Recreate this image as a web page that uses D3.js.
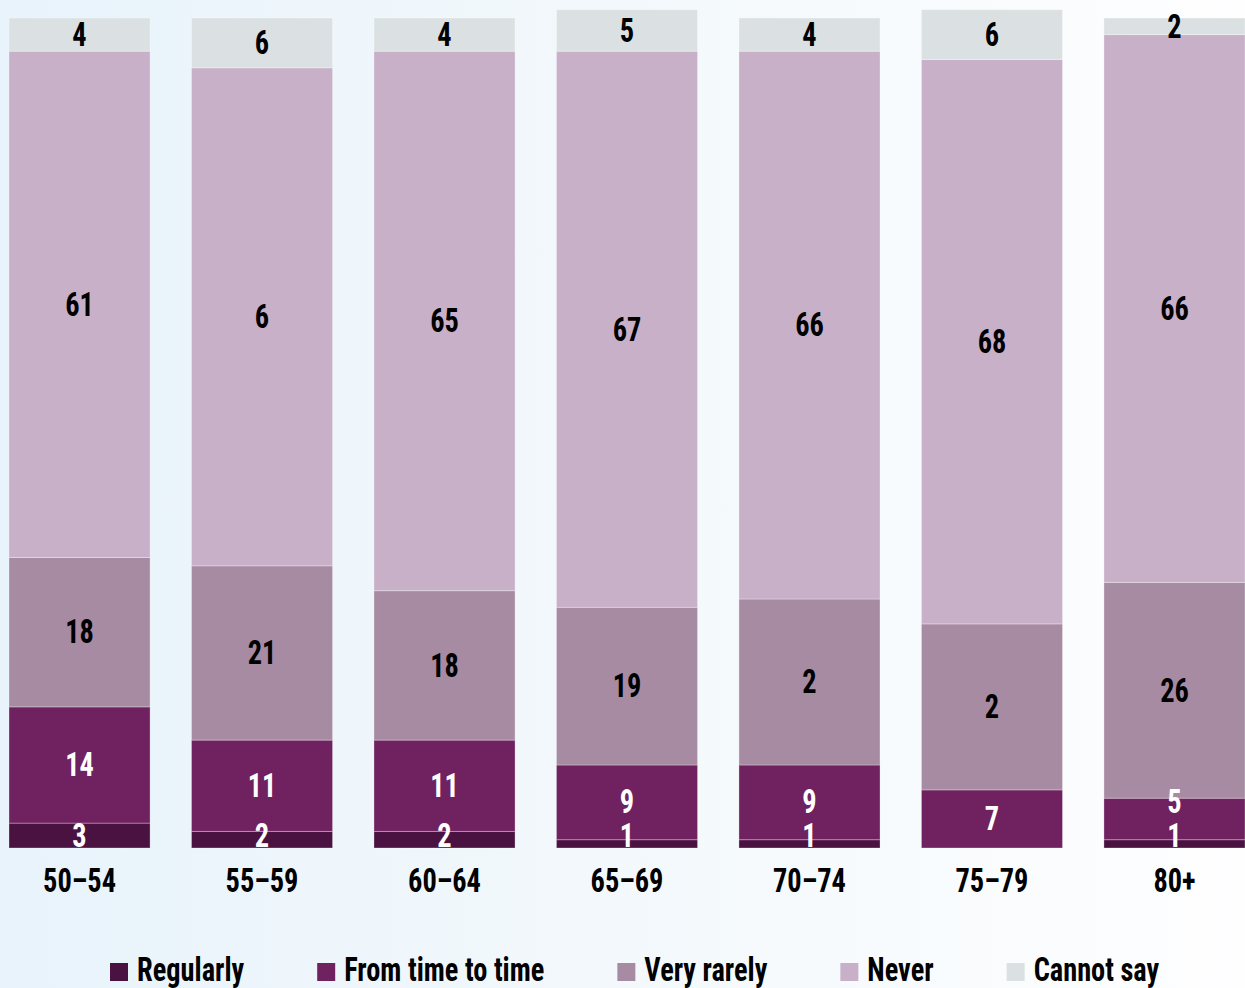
<!DOCTYPE html>
<html>
<head>
<meta charset="utf-8">
<script src="https://cdn.jsdelivr.net/npm/d3@7"></script>
<style>
  html, body { margin: 0; padding: 0; }
  body { width: 1245px; height: 988px; overflow: hidden; }
  svg { display: block; }
  text { font-family: "Liberation Sans Narrow", "Roboto Condensed", "DejaVu Sans Condensed", sans-serif; font-weight: bold; }
</style>
</head>
<body>
<svg id="chart" width="1245" height="988"></svg>
<script>
// ---- data ----
const categories = ["50–54", "55–59", "60–64", "65–69", "70–74", "75–79", "80+"];
const seriesNames = ["Regularly", "From time to time", "Very rarely", "Never", "Cannot say"];
const regularly      = [3, 2, 2, 1, 1, 0, 1];
const fromTimeToTime = [14, 11, 11, 9, 9, 7, 5];
const veryRarely     = [18, 21, 18, 19, 20, 20, 26];
const never          = [61, 60, 65, 67, 66, 68, 66];
const cannotSay      = [4, 6, 4, 5, 4, 6, 2];
// labels as printed in the reference
const regularlyLabels      = ["3", "2", "2", "1", "1", "", "1"];
const fromTimeToTimeLabels = ["14", "11", "11", "9", "9", "7", "5"];
const veryRarelyLabels     = ["18", "21", "18", "19", "2", "2", "26"];
const neverLabels          = ["61", "6", "65", "67", "66", "68", "66"];
const cannotSayLabels      = ["4", "6", "4", "5", "4", "6", "2"];

const seriesValues = [regularly, fromTimeToTime, veryRarely, never, cannotSay];
const seriesLabels = [regularlyLabels, fromTimeToTimeLabels, veryRarelyLabels, neverLabels, cannotSayLabels];
const colors = ["#4a1240", "#6f2160", "#a78ba3", "#c8b0c8", "#dbe1e2"];
const labelColors = ["#ffffff", "#ffffff", "#000000", "#000000", "#000000"];

// ---- layout ----
const W = 1245, H = 988;
const svg = d3.select("#chart");
const defs = svg.append("defs");
const grad = defs.append("linearGradient").attr("id", "bg").attr("x1", "0").attr("x2", "1").attr("y1", "0").attr("y2", "0");
grad.append("stop").attr("offset", "0%").attr("stop-color", "#e8f3fb");
grad.append("stop").attr("offset", "55%").attr("stop-color", "#f4f9fc");
grad.append("stop").attr("offset", "100%").attr("stop-color", "#fefeff");
svg.append("rect").attr("width", W).attr("height", H).attr("fill", "url(#bg)");

const x = d3.scaleBand().domain(categories).range([9, 1245]).paddingInner(0.227).paddingOuter(0);
const y = d3.scaleLinear().domain([0, 100]).range([848, 18]);

const rows = categories.map((c, i) => {
  const r = { cat: c };
  seriesNames.forEach((s, j) => r[s] = seriesValues[j][i]);
  return r;
});
const stacked = d3.stack().keys(seriesNames)(rows);

const FS = 33, SX = 0.86;

const g = svg.append("g");
stacked.forEach((layer, j) => {
  g.selectAll(null).data(layer).enter().append("rect")
    .attr("x", d => x(d.data.cat))
    .attr("width", x.bandwidth())
    .attr("y", d => y(d[1]))
    .attr("height", d => Math.max(0, y(d[0]) - y(d[1])))
    .attr("fill", colors[j])
    .attr("stroke", d => (d[1] - d[0]) > 0 ? "rgba(255,255,255,0.3)" : "none")
    .attr("stroke-width", 1);
});

// value labels with simple collision handling
const bottom = y(0);
categories.forEach((c, i) => {
  let prev = null;
  stacked.forEach((layer, j) => {
    const d = layer[i];
    const txt = seriesLabels[j][i];
    if (!txt) return;
    let cy = (y(d[0]) + y(d[1])) / 2;
    cy = Math.min(cy, bottom - 12);
    if (prev !== null && cy > prev - 34) cy = prev - 34;
    prev = cy;
    svg.append("text")
      .attr("transform", `translate(${x(c) + x.bandwidth() / 2},${cy}) scale(${SX},1)`)
      .attr("text-anchor", "middle")
      .attr("dominant-baseline", "central")
      .attr("font-size", FS)
      .attr("fill", labelColors[j])
      .text(txt);
  });
});

// category axis
const axis = svg.append("g").attr("transform", `translate(0,${bottom})`).call(d3.axisBottom(x).tickSize(0).tickPadding(0));
axis.select(".domain").remove();
axis.selectAll(".tick text").remove();
axis.selectAll(".tick").append("text")
  .attr("transform", `translate(0,44) scale(${SX},1)`)
  .attr("text-anchor", "middle")
  .attr("font-size", FS)
  .attr("fill", "#000")
  .text(d => d);

// legend
const lg = svg.append("g");
let cx = 110;
seriesNames.forEach((s, j) => {
  lg.append("rect").attr("x", cx).attr("y", 963).attr("width", 18).attr("height", 18).attr("fill", colors[j]);
  const t = lg.append("text")
    .attr("transform", `translate(${cx + 27},981) scale(${SX},1)`)
    .attr("font-size", FS)
    .attr("fill", "#000")
    .text(s);
  const w = t.node().getComputedTextLength() * SX;
  cx = cx + 27 + w + 73;
});
</script>
</body>
</html>
